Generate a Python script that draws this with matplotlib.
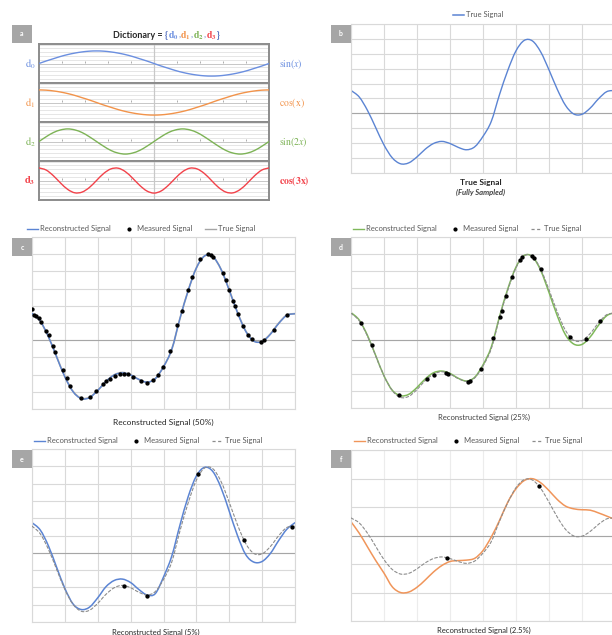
import numpy as np
import matplotlib
matplotlib.use("Agg")
import matplotlib.pyplot as plt
from matplotlib.lines import Line2D
from matplotlib.patches import Rectangle, PathPatch
from matplotlib.path import Path

plt.rcParams['font.family'] = ['Lato', 'DejaVu Sans']
plt.rcParams['mathtext.fontset'] = 'stix'

# ---------------- data (x in grid columns, 8 columns = one period) ----------------
x_curve = np.arange(33) * 0.25

true_sig = [0.77, 0.55, 0.10, -0.48, -1.06, -1.49, -1.69, -1.66, -1.46, -1.20, -1.01,
            -0.94, -1.01, -1.14, -1.22, -1.12, -0.77, -0.27, 0.63, 1.44, 2.10, 2.45,
            2.43, 2.06, 1.46, 0.81, 0.27, -0.02, -0.03, 0.18, 0.49, 0.73, 0.77]

recon_50 = [0.78, 0.56, 0.10, -0.49, -1.07, -1.50, -1.70, -1.67, -1.46, -1.20, -1.01,
            -0.95, -1.01, -1.14, -1.22, -1.12, -0.77, -0.27, 0.63, 1.44, 2.10, 2.45,
            2.43, 2.06, 1.45, 0.80, 0.26, -0.03, -0.04, 0.17, 0.48, 0.72, 0.77]

recon_25 = [0.79, 0.57, 0.12, -0.47, -1.06, -1.48, -1.64, -1.60, -1.40, -1.15, -0.97,
            -0.92, -0.99, -1.13, -1.21, -1.10, -0.74, -0.22, 0.67, 1.48, 2.12, 2.46,
            2.42, 2.02, 1.38, 0.70, 0.14, -0.13, -0.14, 0.08, 0.42, 0.70, 0.79]

recon_5 = [0.87, 0.66, 0.20, -0.42, -1.03, -1.48, -1.64, -1.57, -1.30, -0.98, -0.80,
           -0.76, -0.86, -1.06, -1.22, -1.18, -0.70, -0.10, 0.80, 1.62, 2.22, 2.47,
           2.35, 1.88, 1.20, 0.50, -0.05, -0.27, -0.25, -0.02, 0.35, 0.68, 0.87]

recon_2_5 = [0.60, 0.10, -0.50, -1.10, -1.65, -2.25, -2.50, -2.48, -2.27, -1.95, -1.60,
             -1.32, -1.14, -1.10, -1.08, -1.00, -0.66, -0.07, 0.66, 1.46, 2.05, 2.41,
             2.49, 2.31, 1.97, 1.58, 1.29, 1.17, 1.13, 1.11, 0.99, 0.85, 0.70]

meas_50_x = [0, 0.06, 0.13, 0.2, 0.27, 0.44, 0.52, 0.64, 0.71, 0.94, 1.05, 1.15, 1.5,
             1.76, 1.96, 2.16, 2.26, 2.37, 2.52, 2.67, 2.79, 2.92, 3.08, 3.33, 3.51,
             3.69, 3.84, 3.97, 4.21, 4.42, 4.55, 4.75, 4.87, 5.11, 5.36, 5.43, 5.51,
             5.8, 5.89, 6.0, 6.12, 6.19, 6.27, 6.43, 6.58, 6.69, 6.98, 7.07, 7.36, 7.75]
meas_50_y = [0.90, 0.74, 0.69, 0.64, 0.54, 0.27, 0.16, -0.18, -0.33, -0.88, -1.11, -1.32,
             -1.67, -1.64, -1.47, -1.28, -1.20, -1.13, -1.05, -0.99, -0.97, -0.99, -1.06,
             -1.18, -1.23, -1.16, -1.01, -0.77, -0.31, 0.45, 0.85, 1.47, 1.83, 2.36, 2.50,
             2.47, 2.41, 1.94, 1.76, 1.47, 1.13, 0.98, 0.76, 0.40, 0.16, 0.03, -0.04,
             0.00, 0.30, 0.72]

meas_25_x = [0.31, 0.63, 1.44, 2.31, 2.52, 2.87, 2.94, 3.56, 3.62, 3.95, 4.31, 4.5, 4.57,
             4.69, 4.87, 5.11, 5.18, 5.49, 5.55, 5.76, 6.63, 7.12, 7.56]
meas_25_y = [0.48, -0.15, -1.63, -1.16, -1.03, -0.99, -1.01, -1.23, -1.20, -0.87, 0.05,
             0.65, 0.85, 1.28, 1.83, 2.34, 2.41, 2.44, 2.38, 2.07, 0.08, 0.03, 0.53]

meas_5_x = [2.80, 3.49, 5.04, 6.45, 7.92]
meas_5_y = [-0.97, -1.24, 2.28, 0.36, 0.76]

meas_2_5_x = [2.90, 5.70]
meas_2_5_y = [-0.99, 2.19]

# dictionary atoms, sampled over one period
d0_sin_x = [0, .20, .38, .56, .71, .83, .92, .98, 1, .98, .92, .83, .71, .56, .38, .20, 0,
            -.20, -.38, -.56, -.71, -.83, -.92, -.98, -1, -.98, -.92, -.83, -.71, -.56, -.38, -.20, 0]
d1_cos_x = [1, .98, .92, .83, .71, .56, .38, .20, 0, -.20, -.38, -.56, -.71, -.83, -.92, -.98, -1,
            -.98, -.92, -.83, -.71, -.56, -.38, -.20, 0, .20, .38, .56, .71, .83, .92, .98, 1]
d2_sin_2x = [0, .38, .71, .92, 1, .92, .71, .38, 0, -.38, -.71, -.92, -1, -.92, -.71, -.38, 0,
             .38, .71, .92, 1, .92, .71, .38, 0, -.38, -.71, -.92, -1, -.92, -.71, -.38, 0]
d3_cos_3x = [1, .83, .38, -.20, -.71, -.98, -.92, -.56, 0, .56, .92, .98, .71, .20, -.38, -.83, -1,
             -.83, -.38, .20, .71, .98, .92, .56, 0, -.56, -.92, -.98, -.71, -.20, .38, .83, 1]

dict_series = [d0_sin_x, d1_cos_x, d2_sin_2x, d3_cos_3x]
dict_names = [r'$\mathrm{d_0}$', r'$\mathrm{d_1}$', r'$\mathrm{d_2}$', r'$\mathbf{d_3}$']
dict_funcs = [r'$\mathrm{sin}(x)$', r'$\mathrm{cos(x)}$', r'$\mathrm{sin}(2x)$', r'$\mathbf{cos(3x)}$']
dict_colors = ['#6b8fe0', '#f2934a', '#7db356', '#f2424a']

# ---------------- layout helpers ----------------
W, H = 612, 635
fig = plt.figure(figsize=(W / 100, H / 100), dpi=100)


def box(l, t, r, b):
    return [l / W, 1 - b / H, (r - l) / W, (b - t) / H]


def fx(px):
    return px / W


def fy(py):
    return 1 - py / H


def smooth_line(ax, x, y, **kw):
    # smoothed line through the points (bezier segments, like a spreadsheet "smoothed line")
    p = np.column_stack([x, y]).astype(float)
    ext = np.vstack([p[0], p, p[-1]])
    verts, codes = [p[0]], [Path.MOVETO]
    for i in range(len(p) - 1):
        p0, p1, p2, p3 = ext[i], ext[i + 1], ext[i + 2], ext[i + 3]
        verts += [p1 + (p2 - p0) / 6, p2 - (p3 - p1) / 6, p2]
        codes += [Path.CURVE4] * 3
    ax.add_patch(PathPatch(Path(verts, codes), fill=False, capstyle='round',
                           joinstyle='round', **kw))


def letter_box(l, t, letter):
    fig.add_artist(Rectangle((fx(l), fy(t + 18)), 20 / W, 18 / H,
                             transform=fig.transFigure, color='#a6a6a6', lw=0))
    fig.text(fx(l + 10), fy(t + 9), letter, color='white', fontsize=5,
             fontweight='bold', ha='center', va='center')


def signal_axes(rect, ylim, ystep, vgrid='#d9d9d9'):
    ax = fig.add_axes(rect)
    ax.set_xlim(0, 8)
    ax.set_ylim(*ylim)
    ax.set_xticks(range(9))
    ax.set_yticks(np.arange(ylim[0], ylim[1] + 1e-6, ystep))
    ax.tick_params(length=0, labelbottom=False, labelleft=False)
    ax.yaxis.grid(True, color='#d9d9d9', lw=0.8)
    ax.xaxis.grid(True, color=vgrid, lw=0.8)
    ax.set_axisbelow(True)
    ax.axhline(0, color='#a6a6a6', lw=0.8, zorder=1)
    for sp in ax.spines.values():
        sp.set_color('#d9d9d9')
        sp.set_linewidth(0.8)
    return ax


def add_legend(cx, cy, handles, labels):
    fig.legend(handles, labels, loc='center', bbox_to_anchor=(fx(cx), fy(cy)),
               bbox_transform=fig.transFigure, ncol=len(handles), frameon=False,
               fontsize=5.5, handlelength=1.5, handletextpad=0.2, columnspacing=1.7,
               labelcolor='#595959', borderpad=0)


dot_handle = Line2D([], [], ls='none', marker='o', ms=2.0, color='black')
dash_handle = Line2D([], [], color='#8c8c8c', lw=0.9, ls=(0, (2.5, 2)))
labels3 = ['Reconstructed Signal', 'Measured Signal', 'True Signal']
DASH = (0, (2.5, 2))

# ---------------- panel a: dictionary ----------------
for i, (ys, col) in enumerate(zip(dict_series, dict_colors)):
    top = 44 + 39 * i
    ax = fig.add_axes(box(39, top, 269, top + 39))
    ax.set_xlim(0, 8)
    ax.set_ylim(-1.55, 1.55)
    ax.set_xticks([])
    ax.set_yticks(np.arange(-1.5, 1.51, 0.3))
    ax.tick_params(length=0, labelleft=False)
    ax.yaxis.grid(True, color='#e6e6e6', lw=0.7)
    ax.set_axisbelow(True)
    ax.axhline(0, color='#c8c8c8', lw=0.7, zorder=1)
    ax.axvline(4, color='#c8c8c8', lw=0.9, zorder=1)
    sec = ax.secondary_xaxis(0.5)
    sec.set_xticks(np.arange(0.8, 8, 0.8))
    sec.set_xticklabels([])
    sec.tick_params(length=1.5, width=0.6, color='#a0a0a0', direction='out')
    for sp in sec.spines.values():
        sp.set_visible(False)
    smooth_line(ax, x_curve, ys, edgecolor=col, lw=1.0, zorder=3)
    for sp in ax.spines.values():
        sp.set_color('#8c8c8c')
        sp.set_linewidth(1.4)
    fig.text(fx(30), fy(top + 20), dict_names[i], color=col, fontsize=7.5,
             ha='center', va='center')
    fig.text(fx(279), fy(top + 20), dict_funcs[i], color=col, fontsize=7,
             ha='left', va='center')

letter_box(12, 25, 'a')

# title with coloured members
renderer = fig.canvas.get_renderer()
pieces = [('Dictionary = ', '#262626', dict(fontweight='bold', fontsize=6.5)),
          ('{', '#5470c0', dict(fontweight='bold', fontsize=6.5)),
          (r'$\mathbf{d_0}$', dict_colors[0], dict(fontsize=7)),
          (',', '#5470c0', dict(fontsize=6.5)),
          (r'$\mathbf{d_1}$', dict_colors[1], dict(fontsize=7)),
          (',', '#5470c0', dict(fontsize=6.5)),
          (r'$\mathbf{d_2}$', dict_colors[2], dict(fontsize=7)),
          (',', '#5470c0', dict(fontsize=6.5)),
          (r'$\mathbf{d_3}$', dict_colors[3], dict(fontsize=7)),
          ('}', '#5470c0', dict(fontweight='bold', fontsize=6.5))]
xpos = fx(113)
for s, c, kw in pieces:
    t = fig.text(xpos, fy(38), s, color=c, ha='left', va='baseline', **kw)
    xpos += t.get_window_extent(renderer).width / fig.bbox.width

# ---------------- panel b: true signal ----------------
ax = signal_axes(box(351, 24, 615, 173), (-2, 3), 0.5)
smooth_line(ax, x_curve, true_sig, edgecolor='#5b84d3', lw=1.0)
letter_box(331, 25, 'b')
fig.legend([Line2D([], [], color='#5b84d3', lw=1.1)], ['True Signal'], loc='center',
           bbox_to_anchor=(fx(478), fy(15)), bbox_transform=fig.transFigure,
           frameon=False, fontsize=5.5, handlelength=1.5, handletextpad=0.2,
           labelcolor='#595959', borderpad=0)
fig.text(fx(481), fy(182), 'True Signal', fontsize=6, fontweight='bold',
         color='#262626', ha='center', va='center')
fig.text(fx(481), fy(192), '(Fully Sampled)', fontsize=5.5, fontweight='bold',
         style='italic', color='#404040', ha='center', va='center')

# ---------------- panel c: 50% ----------------
ax = signal_axes(box(32, 237, 295, 409), (-2, 3), 0.5)
smooth_line(ax, x_curve, true_sig, edgecolor='#a5a5a5', lw=1.3, zorder=2)
smooth_line(ax, x_curve, recon_50, edgecolor='#5b84d3', lw=0.9, zorder=3)
ax.plot(meas_50_x, meas_50_y, ls='none', marker='o', ms=2.1, color='black', zorder=4)
letter_box(12, 238, 'c')
add_legend(141, 229, [Line2D([], [], color='#5b84d3', lw=1), dot_handle,
                      Line2D([], [], color='#a5a5a5', lw=1)], labels3)
fig.text(fx(163), fy(422), 'Reconstructed Signal (50%)', fontsize=6,
         color='#262626', ha='center', va='center')

# ---------------- panel d: 25% ----------------
ax = signal_axes(box(351, 237, 615, 408), (-2, 3), 0.5)
smooth_line(ax, x_curve, recon_25, edgecolor='#7fb85a', lw=1.1, zorder=2)
smooth_line(ax, x_curve, true_sig, edgecolor='#8c8c8c', lw=0.8, ls=DASH, zorder=3)
ax.plot(meas_25_x, meas_25_y, ls='none', marker='o', ms=2.1, color='black', zorder=4)
letter_box(331, 238, 'd')
add_legend(467, 229, [Line2D([], [], color='#7fb85a', lw=1), dot_handle, dash_handle], labels3)
fig.text(fx(484), fy(417), 'Reconstructed Signal (25%)', fontsize=5.5,
         color='#404040', ha='center', va='center')

# ---------------- panel e: 5% ----------------
ax = signal_axes(box(32, 449, 295, 622), (-2, 3), 0.5)
smooth_line(ax, x_curve, recon_5, edgecolor='#5b84d3', lw=1.1, zorder=2)
smooth_line(ax, x_curve, true_sig, edgecolor='#8c8c8c', lw=0.8, ls=DASH, zorder=3)
ax.plot(meas_5_x, meas_5_y, ls='none', marker='o', ms=2.1, color='black', zorder=4)
letter_box(12, 450, 'e')
add_legend(148, 441, [Line2D([], [], color='#5b84d3', lw=1), dot_handle, dash_handle], labels3)
fig.text(fx(156), fy(632), 'Reconstructed Signal (5%)', fontsize=5.5,
         color='#262626', ha='center', va='center')

# ---------------- panel f: 2.5% ----------------
ax = signal_axes(box(351, 450, 615, 621), (-3.75, 3.75), 1.25, vgrid='#ececec')
smooth_line(ax, x_curve, recon_2_5, edgecolor='#f0955a', lw=1.1, zorder=2)
smooth_line(ax, x_curve, true_sig, edgecolor='#8c8c8c', lw=0.8, ls=DASH, zorder=3)
ax.plot(meas_2_5_x, meas_2_5_y, ls='none', marker='o', ms=2.1, color='black', zorder=4)
letter_box(331, 450, 'f')
add_legend(468, 441, [Line2D([], [], color='#f0955a', lw=1), dot_handle, dash_handle], labels3)
fig.text(fx(484), fy(630), 'Reconstructed Signal (2.5%)', fontsize=5.5,
         color='#262626', ha='center', va='center')

fig.savefig('out.png', dpi=100, facecolor='white')
